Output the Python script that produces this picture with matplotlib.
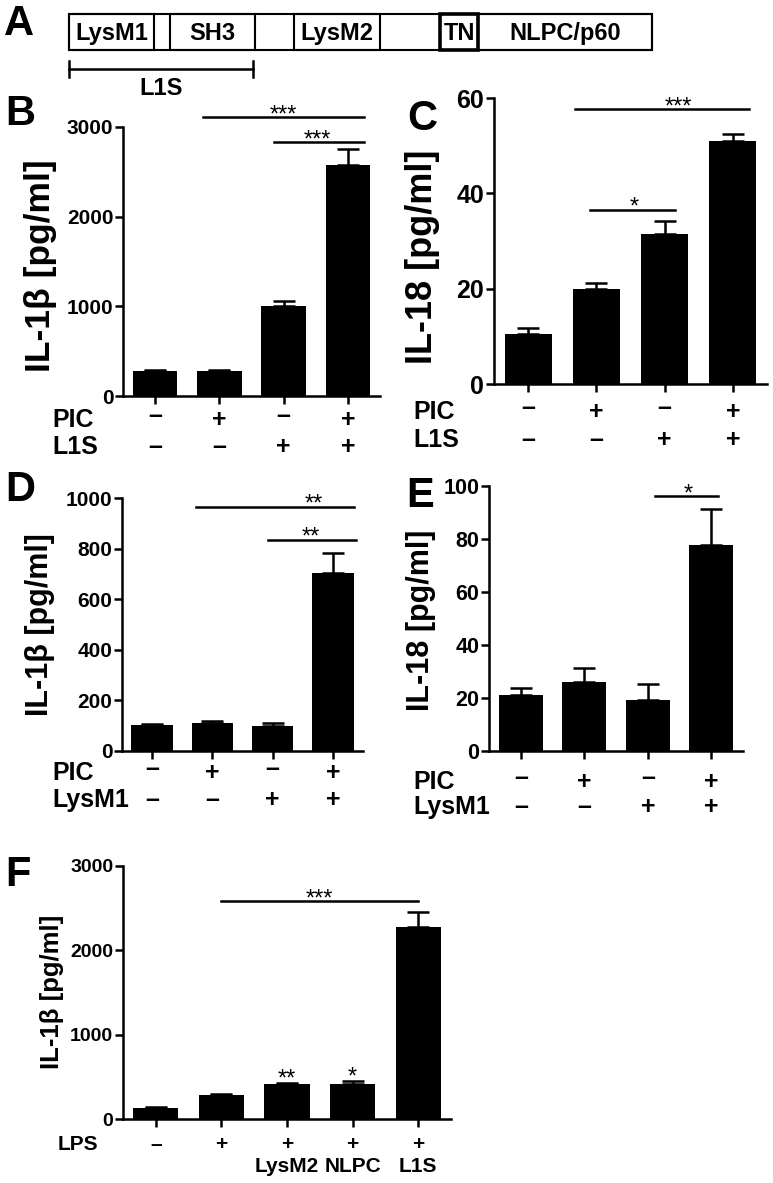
import numpy as np
import matplotlib
matplotlib.use("Agg")
import matplotlib.pyplot as plt
from matplotlib.patches import Rectangle
from matplotlib.transforms import blended_transform_factory

plt.rcParams['font.family'] = ['Liberation Sans', 'DejaVu Sans']

W, H = 773, 1183

# panel A: domain map of the protein
domain_names = ["LysM1", "SH3", "LysM2", "TN", "NLPC/p60"]
domain_start = [69, 170, 294, 440, 478]
domain_end = [154, 255, 380, 478, 652]
protein_start, protein_end = 69, 652
l1s_start, l1s_end = 69, 253

# panel B: IL-1b, PIC / L1S
b_vals = [275, 275, 1000, 2580]
b_err = [15, 12, 55, 180]
b_pic = ['-', '+', '-', '+']
b_l1s = ['-', '-', '+', '+']

# panel C: IL-18, PIC / L1S
c_vals = [10.5, 19.9, 31.4, 50.9]
c_err = [1.2, 1.2, 2.9, 1.5]

# panel D: IL-1b, PIC / LysM1
d_vals = [103, 112, 100, 705]
d_err = [4, 6, 12, 76]

# panel E: IL-18, PIC / LysM1
e_vals = [21.3, 26.0, 19.4, 77.7]
e_err = [2.5, 5.2, 5.7, 13.6]

# panel F: IL-1b, LPS + fragments
f_vals = [130, 285, 420, 414, 2272]
f_err = [10, 10, 8, 36, 178]
f_lps = ['-', '+', '+', '+', '+']
f_names = ['', '', 'LysM2', 'NLPC', 'L1S']

# significance: (x0, x1, y, stars, star_x)
b_sig = [(0.75, 3.25, 3110, '***', 2.0), (1.85, 3.25, 2830, '***', 2.53)]
c_sig = [(0.68, 3.24, 57.6, '***', 2.2), (0.90, 2.15, 36.6, '*', 1.55)]
d_sig = [(0.73, 3.35, 966, '**', 2.69), (1.92, 3.38, 835, '**', 2.63)]
e_sig = [(2.11, 3.11, 96.2, '*', 2.63)]
f_sig = [(1.0, 4.0, 2580, '***', 2.5)]
f_bar_stars = ['', '', '**', '*', '']

fig = plt.figure(figsize=(W / 100, H / 100), dpi=100)


def axes_px(left, top, right, bottom):
    return fig.add_axes([left / W, 1 - bottom / H, (right - left) / W, (bottom - top) / H])


def bar_panel(ax, vals, errs, ylim, yticks, fs):
    x = np.arange(len(vals))
    ax.bar(x, vals, width=0.69, color='black', zorder=2)
    ax.errorbar(x, vals, yerr=[np.zeros(len(errs)), errs], fmt='none', ecolor='black',
                elinewidth=1.8, capsize=8, capthick=1.8, zorder=1)
    ax.set_xlim(-0.5, len(vals) - 0.5)
    ax.set_ylim(*ylim)
    ax.set_yticks(yticks)
    ax.set_xticks(x)
    ax.set_xticklabels([])
    for s in ['top', 'right']:
        ax.spines[s].set_visible(False)
    for s in ['left', 'bottom']:
        ax.spines[s].set_linewidth(1.8)
    ax.tick_params(direction='out', length=6, width=1.8, labelsize=fs, pad=1)
    for lab in ax.get_yticklabels():
        lab.set_fontweight('bold')
    ax.patch.set_alpha(0)


def sig_lines(ax, sigs):
    for x0, x1, y, stars, sx in sigs:
        ax.plot([x0, x1], [y, y], color='black', lw=1.8, clip_on=False)
        ax.annotate(stars, (sx, y), xytext=(0, -3), textcoords='offset points',
                    ha='center', va='baseline', fontsize=17, annotation_clip=False)


def sign_row(ax, signs, y_px, label, label_x, fs, raise_minus=False):
    tr = blended_transform_factory(ax.transData, fig.transFigure)
    fig.text(label_x / W, 1 - y_px / H, label, ha='left', va='center',
             fontsize=fs, fontweight='bold')
    for i, s in enumerate(signs):
        yy = y_px
        if s == '-':
            ch = '\u2013'
            if raise_minus:
                yy = y_px - 4
        else:
            ch = '+'
        ax.text(i, 1 - yy / H, ch, transform=tr, ha='center', va='center',
                fontsize=fs, fontweight='bold')


def ylabel(x_px, y_px, text, fs):
    fig.text(x_px / W, 1 - y_px / H, text, rotation=90, ha='center', va='center',
             fontsize=fs, fontweight='bold')


def letter(x_px, y_px, s):
    fig.text(x_px / W, 1 - y_px / H, s, ha='center', va='center',
             fontsize=30, fontweight='bold')


# ---- panel A ----
ax0 = fig.add_axes([0, 0, 1, 1], zorder=-1)
ax0.set_xlim(0, W)
ax0.set_ylim(H, 0)
ax0.axis('off')
ax0.add_patch(Rectangle((protein_start, 14), protein_end - protein_start, 36,
                        fill=False, lw=1.5, ec='black'))
for name, x0, x1 in zip(domain_names, domain_start, domain_end):
    lw = 2.6 if name == 'TN' else 1.5
    ax0.add_patch(Rectangle((x0, 14), x1 - x0, 36, fill=False, lw=lw, ec='black'))
    ax0.text((x0 + x1) / 2, 33, name, ha='center', va='center', fontsize=17,
             fontweight='bold')
ax0.plot([l1s_start, l1s_end], [69, 69], color='black', lw=1.8)
ax0.plot([l1s_start, l1s_start], [61, 77], color='black', lw=1.8)
ax0.plot([l1s_end, l1s_end], [61, 77], color='black', lw=1.8)
ax0.text((l1s_start + l1s_end) / 2, 88, 'L1S', ha='center', va='center',
         fontsize=17, fontweight='bold')
letter(19, 24, 'A')

# ---- panel B ----
axb = axes_px(123, 127, 380, 396)
bar_panel(axb, b_vals, b_err, (0, 3000), [0, 1000, 2000, 3000], 15)
sig_lines(axb, b_sig)
sign_row(axb, b_pic, 420, 'PIC', 52, 18, raise_minus=True)
sign_row(axb, b_l1s, 447, 'L1S', 52, 18)
ylabel(41, 266, 'IL-1\u03b2 [pg/ml]', 25.5)
letter(20, 114, 'B')

# ---- panel C ----
axc = axes_px(494, 98, 767, 384)
bar_panel(axc, c_vals, c_err, (0, 60), [0, 20, 40, 60], 18)
sig_lines(axc, c_sig)
sign_row(axc, b_pic, 412, 'PIC', 413, 18, raise_minus=True)
sign_row(axc, b_l1s, 440, 'L1S', 413, 18)
ylabel(423, 257, 'IL-18 [pg/ml]', 26)
letter(422, 119, 'C')

# ---- panel D ----
axd = axes_px(122, 498, 363, 751)
bar_panel(axd, d_vals, d_err, (0, 1000), [0, 200, 400, 600, 800, 1000], 15)
sig_lines(axd, d_sig)
sign_row(axd, b_pic, 773, 'PIC', 52, 18, raise_minus=True)
sign_row(axd, b_l1s, 800, 'LysM1', 52, 18)
ylabel(40, 625, 'IL-1\u03b2 [pg/ml]', 22)
letter(20, 490, 'D')

# ---- panel E ----
axe = axes_px(489, 486, 743, 751)
bar_panel(axe, e_vals, e_err, (0, 100), [0, 20, 40, 60, 80, 100], 15.5)
sig_lines(axe, e_sig)
sign_row(axe, b_pic, 782, 'PIC', 413, 18, raise_minus=True)
sign_row(axe, b_l1s, 807, 'LysM1', 413, 18)
ylabel(421, 620, 'IL-18 [pg/ml]', 22)
letter(420, 496, 'E')

# ---- panel F ----
axf = axes_px(123, 866, 451, 1119)
bar_panel(axf, f_vals, f_err, (0, 3000), [0, 1000, 2000, 3000], 14)
sig_lines(axf, f_sig)
for i, st in enumerate(f_bar_stars):
    if st:
        axf.annotate(st, (i, f_vals[i] + f_err[i]), xytext=(0, -2),
                     textcoords='offset points', ha='center', va='baseline', fontsize=17)
sign_row(axf, f_lps, 1145, 'LPS', 58, 15)
tr = blended_transform_factory(axf.transData, fig.transFigure)
for i, nm in enumerate(f_names):
    if nm:
        axf.text(i, 1 - 1167 / H, nm, transform=tr, ha='center', va='center',
                 fontsize=15, fontweight='bold')
ylabel(52, 992, 'IL-1\u03b2 [pg/ml]', 18.5)
letter(18, 875, 'F')

fig.savefig('out.png', dpi=100)
